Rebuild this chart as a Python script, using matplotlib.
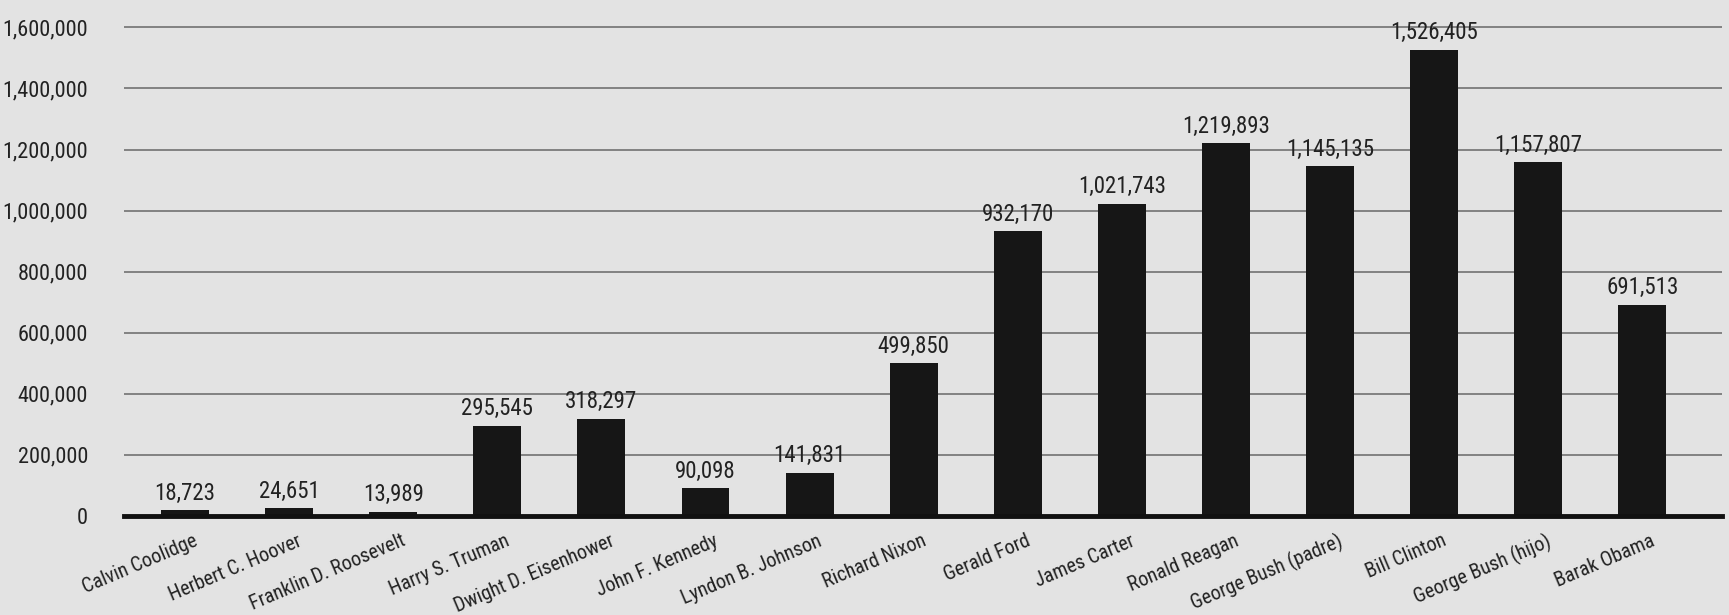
import matplotlib
matplotlib.use("Agg")
import matplotlib.pyplot as plt
from matplotlib import font_manager
from matplotlib.ticker import FuncFormatter
from matplotlib.transforms import ScaledTranslation

presidents = ["Calvin Coolidge", "Herbert C. Hoover", "Franklin D. Roosevelt",
              "Harry S. Truman", "Dwight D. Eisenhower", "John F. Kennedy",
              "Lyndon B. Johnson", "Richard Nixon", "Gerald Ford", "James Carter",
              "Ronald Reagan", "George Bush (padre)", "Bill Clinton",
              "George Bush (hijo)", "Barak Obama"]
values = [18723, 24651, 13989, 295545, 318297, 90098, 141831, 499850,
          932170, 1021743, 1219893, 1145135, 1526405, 1157807, 691513]
yticks = [0, 200000, 400000, 600000, 800000, 1000000, 1200000, 1400000, 1600000]

names = {f.name for f in font_manager.fontManager.ttflist}
family = None
for cand in ["Roboto Condensed", "Liberation Sans Narrow", "Open Sans Condensed",
             "DejaVu Sans Condensed"]:
    if cand in names:
        family = cand
        break
stretch = "normal"
if family is None:
    family = "DejaVu Sans"
    stretch = "condensed"

plt.rcParams["font.family"] = [family, "DejaVu Sans"]
plt.rcParams["font.stretch"] = stretch

bg = "#e3e3e3"
txt = "#222222"
fig = plt.figure(figsize=(17.29, 6.15), dpi=100, facecolor=bg)
ax = fig.add_axes([124 / 1729, (615 - 516) / 615, (1722 - 124) / 1729, 516 / 615])
ax.set_facecolor(bg)

x = list(range(len(presidents)))
ax.bar(x, values, width=0.46, color="#161616", zorder=3)

for xi, v in zip(x, values):
    ax.annotate(f"{v:,}", (xi, v), xytext=(0, 4), textcoords="offset points",
                ha="center", va="bottom", fontsize=16.5, color=txt, zorder=4)

ax.set_xlim(-0.586, 14.765)
ax.set_ylim(0, 1689700)
ax.set_yticks(yticks)
ax.yaxis.set_major_formatter(FuncFormatter(lambda v, p: f"{int(v):,}"))
ax.grid(axis="y", color="#7a7a7a", linewidth=1.3, zorder=1)
ax.tick_params(axis="y", length=0, pad=26, labelsize=16, labelcolor=txt)
ax.tick_params(axis="x", length=0, pad=11)
ax.set_xticks(x)
ax.set_xticklabels(presidents, rotation=23, ha="right", rotation_mode="anchor",
                   fontsize=14.5, color=txt)
shift = ScaledTranslation(8 / 100, 0, fig.dpi_scale_trans)
for lab in ax.get_xticklabels():
    lab.set_transform(lab.get_transform() + shift)

for s in ["top", "right", "left"]:
    ax.spines[s].set_visible(False)
ax.spines["bottom"].set_color("#111111")
ax.spines["bottom"].set_linewidth(3.5)
ax.spines["bottom"].set_zorder(5)

fig.savefig("out.png", dpi=100, facecolor=bg)
